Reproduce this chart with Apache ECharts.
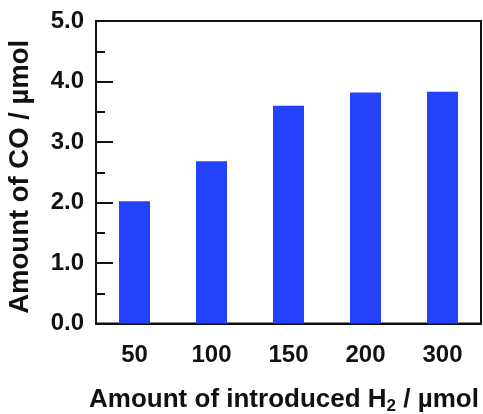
<!DOCTYPE html>
<html>
<head>
<meta charset="utf-8">
<script src="https://cdn.jsdelivr.net/npm/echarts@6/dist/echarts.min.js"></script>
<style>
html,body{margin:0;padding:0;background:#fff;}
#chart{width:483px;height:414px;}
</style>
</head>
<body>
<div id="chart"></div>
<script>
var categories = ['50', '100', '150', '200', '300'];
var coAmounts = [2.02, 2.68, 3.60, 3.82, 3.83];
var yTicks = [0, 1, 2, 3, 4, 5];

var FONT = '"Liberation Sans", Arial, Helvetica, sans-serif';
var INK = '#111111';

var chart = echarts.init(document.getElementById('chart'), null, {renderer: 'canvas'});
chart.setOption({
  animation: false,
  backgroundColor: '#ffffff',
  grid: {
    left: 96, top: 21, right: 2, bottom: 90.5,
    containLabel: false,
    outerBoundsMode: 'none',
    show: true, borderColor: INK, borderWidth: 2, backgroundColor: 'transparent'
  },
  xAxis: {
    type: 'category',
    data: categories,
    axisTick: {show: false},
    axisLine: {lineStyle: {color: INK, width: 2}},
    axisLabel: {color: INK, fontSize: 24, fontWeight: 'bold', fontFamily: FONT, margin: 20},
    name: 'Amount of introduced H{sub|2} / µmol',
    nameLocation: 'middle',
    nameGap: 61,
    nameTextStyle: {
      color: INK, fontSize: 26, fontWeight: 'bold', fontFamily: FONT, lineHeight: 30,
      padding: [0, 9, 0, 0],
      rich: {
        sub: {fontSize: 17, fontWeight: 'bold', fontFamily: FONT, color: INK, verticalAlign: 'bottom', lineHeight: 17}
      }
    }
  },
  yAxis: {
    type: 'value',
    min: yTicks[0],
    max: yTicks[yTicks.length - 1],
    interval: 1,
    splitLine: {show: false},
    axisLine: {show: true, lineStyle: {color: INK, width: 2}},
    axisTick: {show: true, inside: true, length: 17, lineStyle: {color: INK, width: 2}},
    minorTick: {show: true, splitNumber: 2, length: 9, lineStyle: {color: INK, width: 2}},
    minorSplitLine: {show: false},
    axisLabel: {
      color: INK, fontSize: 24, fontWeight: 'bold', fontFamily: FONT, margin: 12,
      formatter: function (v) { return v.toFixed(1); }
    },
    name: 'Amount of CO / µmol',
    nameLocation: 'middle',
    nameGap: 62,
    nameTextStyle: {color: INK, fontSize: 27.5, fontWeight: 'bold', fontFamily: FONT, padding: [0, 9, 0, 0]}
  },
  series: [{
    type: 'bar',
    data: coAmounts,
    barWidth: 31,
    itemStyle: {color: '#2441fb'}
  }]
});
</script>
</body>
</html>
